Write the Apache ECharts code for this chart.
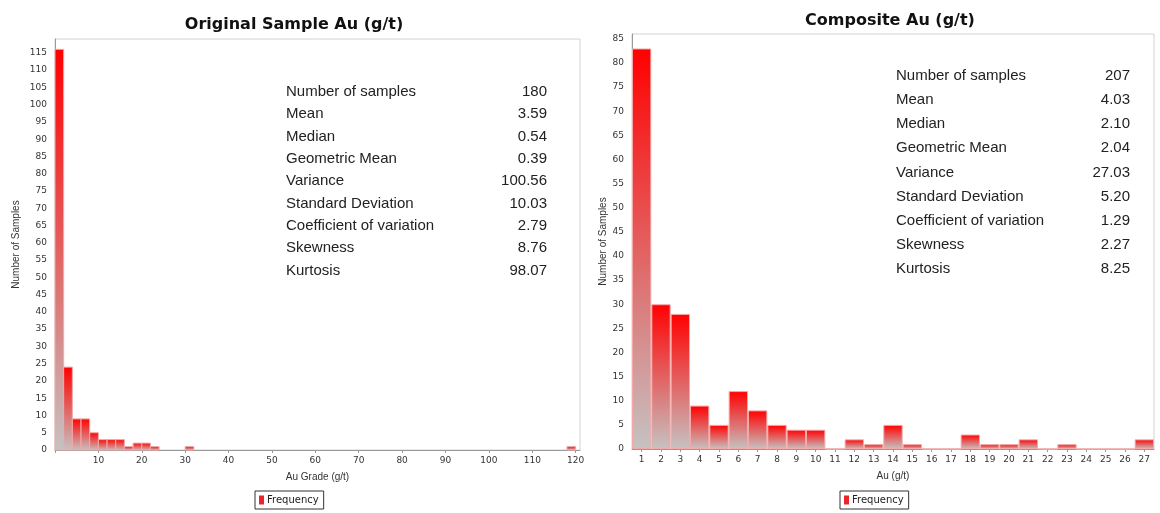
<!DOCTYPE html>
<html lang="en">
<head>
<meta charset="UTF-8">
<title>Original Sample Au vs Composite Au</title>
<script src="https://cdn.jsdelivr.net/npm/echarts@6/dist/echarts.min.js"></script>
<style>
    html, body { margin: 0; padding: 0; background: #fff; }
    #chart { width: 1160px; height: 513px; }
</style>
</head>
<body>
<div id="chart"></div>
<script>
    // original samples, 2 g/t bins (bin start -> count)
    var origBinStart = [0, 2, 4, 6, 8, 10, 12, 14, 16, 18, 20, 22, 30, 118];
    var origCount = [116, 24, 9, 9, 5, 3, 3, 3, 1, 2, 2, 1, 1, 1];
    var origBinWidth = 2;

    // composites, 1 g/t classes
    var compBins = ['1', '2', '3', '4', '5', '6', '7', '8', '9', '10', '11', '12', '13', '14',
        '15', '16', '17', '18', '19', '20', '21', '22', '23', '24', '25', '26', '27'];
    var compCount = [83, 30, 28, 9, 5, 12, 8, 5, 4, 4, 0, 2, 1, 5, 1, 0, 0, 3, 1, 1, 2, 0, 1, 0, 0, 0, 2];

    // summary statistics
    var statNames = ['Number of samples', 'Mean', 'Median', 'Geometric Mean', 'Variance',
        'Standard Deviation', 'Coefficient of variation', 'Skewness', 'Kurtosis'];
    var origStats = ['180', '3.59', '0.54', '0.39', '100.56', '10.03', '2.79', '8.76', '98.07'];
    var compStats = ['207', '4.03', '2.10', '2.04', '27.03', '5.20', '1.29', '2.27', '8.25'];

    var myChart = echarts.init(document.getElementById('chart'));

    function barFill() {
        return new echarts.graphic.LinearGradient(0, 0, 0, 1, [
            { offset: 0, color: '#ff0000' },
            { offset: 1, color: '#c6c2c2' }
        ]);
    }
    var barEdge = '#f4a8a8';

    var origData = origBinStart.map(function (s, i) {
        return [s, s + origBinWidth, origCount[i]];
    });

    function renderBin(params, api) {
        var top = api.coord([api.value(0), api.value(2)]);
        var bottom = api.coord([api.value(1), 0]);
        return {
            type: 'rect',
            shape: { x: top[0], y: top[1], width: bottom[0] - top[0], height: bottom[1] - top[1] },
            style: { fill: barFill(), stroke: barEdge, lineWidth: 1 }
        };
    }

    // stats tables as text
    function statTexts(names, vals, xl, xr, y0, dy) {
        var out = [];
        names.forEach(function (n, i) {
            var y = y0 + i * dy;
            out.push({ type: 'text', style: { text: n, x: xl, y: y, fill: '#222',
                font: '15px "Liberation Sans", Arial, sans-serif',
                textAlign: 'left', textVerticalAlign: 'middle', align: 'left', verticalAlign: 'middle' } });
            out.push({ type: 'text', style: { text: vals[i], x: xr, y: y, fill: '#222',
                font: '15px "Liberation Sans", Arial, sans-serif',
                textAlign: 'right', textVerticalAlign: 'middle', align: 'right', verticalAlign: 'middle' } });
        });
        return out;
    }

    var tickFont = { fontFamily: 'DejaVu Sans', fontSize: 9, color: '#333' };
    var nameFont = { fontFamily: 'Liberation Sans', fontSize: 10, color: '#333' };
    var axisLine = { lineStyle: { color: '#999' } };

    var legendItem = [{ name: 'Frequency', icon: 'rect', itemStyle: { color: '#e8242c' } }];

    option = {
        animation: false,
        backgroundColor: '#fff',
        title: [{
            text: 'Original Sample Au (g/t)',
            left: 289, top: 12, textAlign: 'center',
            textStyle: { fontFamily: 'DejaVu Sans', fontSize: 16, fontWeight: 'bold', color: '#111' }
        }, {
            text: 'Composite Au (g/t)',
            left: 885, top: 8, textAlign: 'center',
            textStyle: { fontFamily: 'DejaVu Sans', fontSize: 16, fontWeight: 'bold', color: '#111' }
        }],
        legend: [{
            data: legendItem, left: 255, top: 491,
            borderColor: '#333', borderWidth: 1, padding: [4, 5, 4, 4],
            itemWidth: 5, itemHeight: 9, itemGap: 4,
            textStyle: { fontFamily: 'DejaVu Sans', fontSize: 10, color: '#222', padding: [0, 0, 0, -2] }
        }, {
            data: legendItem, left: 840, top: 491,
            borderColor: '#333', borderWidth: 1, padding: [4, 5, 4, 4],
            itemWidth: 5, itemHeight: 9, itemGap: 4,
            textStyle: { fontFamily: 'DejaVu Sans', fontSize: 10, color: '#222', padding: [0, 0, 0, -2] }
        }],
        grid: [
            { left: 55, right: 580, top: 39, bottom: 63, show: true, borderColor: '#d2d2d2', borderWidth: 1 },
            { left: 632, right: 6, top: 34, bottom: 64, show: true, borderColor: '#d2d2d2', borderWidth: 1 }
        ],
        xAxis: [{
            gridIndex: 0, type: 'value', min: 0, max: 121, interval: 10,
            name: 'Au Grade (g/t)', nameLocation: 'middle', nameGap: 22, nameTextStyle: nameFont,
            axisLine: axisLine, axisTick: { show: true, length: 3, lineStyle: { color: '#999' } },
            axisLabel: Object.assign({ margin: 6, showMaxLabel: false,
                formatter: function (v) { return v === 0 ? '' : v; } }, tickFont),
            splitLine: { show: false }
        }, {
            gridIndex: 1, type: 'category', data: compBins,
            name: 'Au (g/t)', nameLocation: 'middle', nameGap: 22, nameTextStyle: nameFont,
            axisLine: axisLine, axisTick: { show: true, alignWithLabel: true, length: 3, lineStyle: { color: '#999' } },
            axisLabel: Object.assign({ margin: 6, interval: 0 }, tickFont)
        }],
        yAxis: [{
            gridIndex: 0, type: 'value', min: 0, max: 119, interval: 5,
            name: 'Number of Samples', nameLocation: 'middle', nameGap: 34, nameTextStyle: nameFont,
            axisLine: { show: true, lineStyle: { color: '#999' } }, axisTick: { show: false },
            axisLabel: Object.assign({ margin: 8, showMaxLabel: false }, tickFont),
            splitLine: { show: false }
        }, {
            gridIndex: 1, type: 'value', min: 0, max: 86, interval: 5,
            name: 'Number of Samples', nameLocation: 'middle', nameGap: 24, nameTextStyle: nameFont,
            axisLine: { show: true, lineStyle: { color: '#999' } }, axisTick: { show: false },
            axisLabel: Object.assign({ margin: 8, showMaxLabel: false }, tickFont),
            splitLine: { show: false }
        }],
        series: [{
            name: 'Frequency', type: 'custom',
            xAxisIndex: 0, yAxisIndex: 0,
            renderItem: renderBin,
            encode: { x: [0, 1], y: 2 },
            itemStyle: { color: '#e8242c' },
            data: origData
        }, {
            name: 'Frequency', type: 'bar',
            xAxisIndex: 1, yAxisIndex: 1,
            barCategoryGap: '0%',
            itemStyle: { color: barFill(), borderColor: barEdge, borderWidth: 1 },
            data: compCount
        }],
        graphic: statTexts(statNames, origStats, 286, 547, 92, 22.3)
            .concat(statTexts(statNames, compStats, 896, 1130, 76, 24.1))
    };
    myChart.setOption(option);
</script>
</body>
</html>
